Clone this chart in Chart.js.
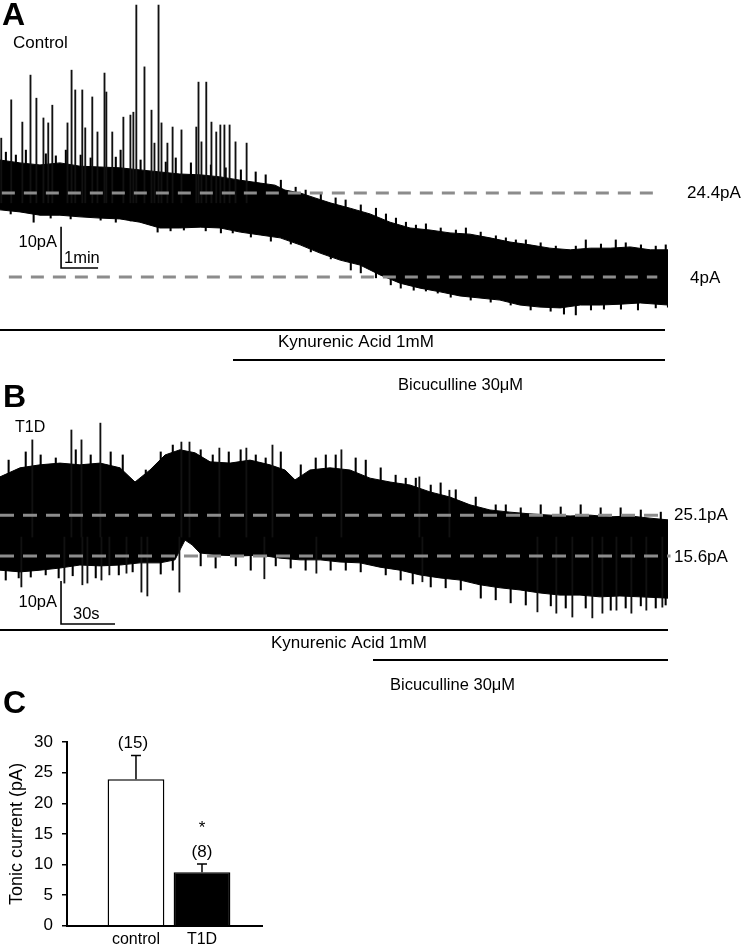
<html>
    <head>
        <script src="https://cdn.jsdelivr.net/npm/chart.js@4.4.1/dist/chart.umd.min.js"></script>
        <style type="text/css">
            body {
                margin: 0;
                padding: 0;
                background: #fff;
            }
            #page {
                position: relative;
                width: 742px;
                height: 945px;
            }
            #page canvas {
                position: absolute;
                left: 0;
            }
        </style>
    </head>
    <body>
        <div id="page">
            <canvas id="traceA" width="742" height="400" style="top:0px"></canvas>
            <canvas id="traceB" width="742" height="325" style="top:375px"></canvas>
            <canvas id="barC" width="300" height="265" style="top:680px"></canvas>
        </div>

        <script>
        // ---- panel A (control), time in min, current in pA ----
        const aUpTime = [0, 0.54, 1.08, 1.62, 2.16, 2.70, 3.24, 3.78, 4.32, 4.86, 5.41, 5.95, 6.49, 7.03, 7.43, 7.70, 8.11, 8.51, 8.92, 9.46, 10.0, 10.54, 11.08, 11.62, 12.16, 12.70, 13.24, 13.78, 14.32, 14.86, 15.41, 15.95, 16.49, 17.03, 17.57, 18.05];
        const aUp = [32.4, 31.7, 31.2, 31.7, 30.9, 30.7, 30.5, 30.0, 29.5, 29.0, 28.8, 28.3, 27.5, 26.8, 26.3, 25.1, 24.4, 23.2, 22.0, 20.7, 19.3, 17.3, 15.9, 15.4, 14.7, 14.4, 13.5, 12.5, 11.8, 11.0, 10.6, 11.0, 11.0, 11.3, 10.6, 10.6];
        const aLowTime = [0, 0.54, 1.08, 1.62, 2.16, 2.70, 3.24, 3.78, 4.32, 4.86, 5.41, 5.95, 6.49, 7.03, 7.57, 8.11, 8.65, 9.19, 9.73, 10.27, 10.81, 11.35, 11.89, 12.43, 12.97, 13.51, 14.05, 14.59, 15.14, 15.68, 16.22, 16.76, 17.30, 18.05];
        const aLow = [20.3, 19.8, 19.0, 19.0, 18.6, 18.3, 18.1, 17.3, 15.9, 15.9, 16.1, 15.9, 14.9, 14.2, 13.5, 11.8, 9.8, 8.1, 6.9, 4.5, 2.5, 1.3, 0.4, -0.6, -1.1, -1.6, -2.8, -3.3, -3.5, -2.8, -2.8, -2.6, -2.3, -2.8];
        // big outward events
        const aSpikeTime = [0.05, 0.32, 0.62, 0.84, 1.00, 1.19, 1.32, 1.43, 1.84, 1.95, 2.05, 2.24, 2.32, 2.51, 2.65, 2.84, 2.89, 3.05, 3.35, 3.54, 3.62, 3.70, 3.92, 4.11, 4.19, 4.30, 4.38, 4.54, 4.68, 4.92, 5.32, 5.38, 5.46, 5.59, 5.73, 5.86, 5.97, 6.08, 6.22, 6.38, 6.68];
        const aSpikeTip = [37.7, 47.0, 41.6, 53.0, 47.4, 42.6, 41.4, 45.7, 41.4, 54.2, 49.4, 49.4, 40.2, 47.7, 39.2, 53.5, 48.9, 39.2, 42.8, 43.3, 44.0, 70.0, 55.0, 44.5, 36.5, 70.0, 41.4, 36.5, 40.4, 39.7, 40.4, 51.3, 36.8, 51.3, 41.6, 39.2, 40.9, 40.9, 40.9, 36.8, 36.5];
        const aSpikeBase = 22;
        // noise peaks along the top and bottom edge of the band
        const aTopNoiseTime = [0.14, 0.41, 0.68, 1.22, 1.49, 1.76, 2.16, 2.43, 3.11, 3.24, 3.78, 4.46, 4.73, 5.14, 5.68, 6.08, 6.49, 6.89, 7.16, 7.57, 7.97, 8.24, 8.65, 9.05, 9.32, 9.73, 10.14, 10.41, 10.68, 10.95, 11.22, 11.49, 11.89, 12.30, 12.57, 12.97, 13.38, 13.65, 13.92, 14.19, 14.59, 15.0, 15.54, 15.81, 16.22, 16.62, 16.89, 17.30, 17.70, 17.97];
        const aTopNoise = [34.3, 33.6, 34.8, 33.9, 33.4, 34.8, 33.6, 32.9, 33.1, 34.8, 32.4, 31.9, 32.9, 31.7, 31.2, 30.5, 30.0, 29.5, 28.8, 27.5, 25.8, 25.1, 24.4, 23.2, 22.7, 21.5, 20.7, 19.3, 18.3, 17.3, 16.6, 16.9, 15.9, 15.4, 15.9, 14.9, 14.0, 13.5, 13.0, 13.0, 12.3, 11.5, 11.5, 13.0, 12.0, 13.0, 12.3, 11.8, 11.5, 11.8];
        const aLowNoiseTime = [0.27, 0.89, 1.35, 1.89, 2.70, 3.11, 3.51, 4.24, 4.59, 4.95, 5.54, 5.95, 6.27, 6.76, 7.30, 7.84, 8.38, 8.92, 9.46, 9.73, 10.14, 10.54, 10.81, 11.16, 11.49, 11.81, 12.16, 12.70, 13.24, 13.78, 14.32, 14.86, 15.22, 15.54, 15.95, 16.30, 16.76, 17.22, 17.70, 18.03];
        const aLowNoise = [19.3, 17.3, 18.3, 18.1, 17.8, 17.3, 17.6, 14.9, 15.2, 15.4, 15.2, 14.7, 14.7, 13.7, 12.7, 12.0, 10.1, 8.4, 5.7, 5.0, 3.8, 2.1, 1.3, 0.8, 0.6, 0.1, -0.9, -1.6, -2.1, -2.8, -4.0, -4.3, -5.0, -5.2, -4.0, -3.8, -3.8, -4.0, -3.5, -3.3];
        const aLevels = [24.4, 4];

        // ---- panel B (T1D), time in s, current in pA ----
        const bUpTime = [0, 11.1, 22.2, 33.3, 44.4, 55.6, 66.7, 75.0, 83.3, 91.7, 100.0, 108.3, 116.7, 127.8, 138.9, 150.0, 158.3, 163.9, 172.2, 183.3, 194.4, 205.6, 216.7, 227.8, 238.9, 250.0, 261.1, 272.2, 283.3, 294.4, 305.6, 316.7, 327.8, 338.9, 350.0, 361.1, 371.1];
        const bUp = [34.0, 36.1, 36.8, 37.2, 36.8, 37.2, 36.1, 32.8, 35.6, 39.1, 40.3, 39.6, 37.5, 37.2, 37.9, 36.8, 35.6, 33.3, 35.6, 36.1, 35.6, 33.7, 32.8, 32.1, 30.5, 29.3, 27.5, 26.3, 25.8, 25.4, 25.1, 24.9, 25.1, 24.7, 24.9, 24.4, 24.0];
        const bLowTime = [0, 11.1, 22.2, 33.3, 44.4, 55.6, 66.7, 77.8, 88.9, 97.2, 102.8, 106.7, 111.1, 122.2, 133.3, 144.4, 155.6, 166.7, 177.8, 188.9, 200.0, 211.1, 222.2, 233.3, 244.4, 255.6, 266.7, 277.8, 288.9, 300.0, 311.1, 322.2, 333.3, 344.4, 355.6, 371.1];
        const bLow = [12.3, 11.9, 12.3, 12.8, 13.5, 13.3, 13.5, 14.0, 14.0, 14.7, 19.3, 18.2, 16.3, 15.8, 15.6, 15.8, 15.1, 14.7, 14.7, 14.2, 14.0, 13.0, 12.3, 11.2, 10.5, 10.0, 8.9, 8.2, 7.7, 7.0, 6.5, 6.5, 6.1, 6.3, 6.1, 5.8];
        const bSpikeTime = [12.2, 18.3, 36.1, 40.0, 45.6, 46.1, 48.9, 56.1, 56.7, 61.1, 70.6, 78.9, 82.2, 100.0, 101.1, 105.6, 122.2, 137.2, 147.2, 151.7, 176.1, 190.0, 233.3, 235.0, 250.0, 298.9, 309.4, 318.3, 329.4, 335.0, 342.8, 351.1, 359.4, 368.3];
        const bSpikeTip = [8.4, 42.6, 9.3, 44.9, 42.6, 8.9, 9.3, 46.5, 10.0, 11.2, 11.6, 7.2, 6.3, 7.2, 42.1, 42.1, 40.7, 40.7, 10.3, 41.4, 11.6, 40.3, 34.0, 9.6, 30.9, 2.6, 2.3, 1.4, 1.2, 2.3, 3.0, 2.3, 3.0, 3.7];
        const bSpikeBase = 20;
        const bTopNoiseTime = [4.4, 13.9, 22.2, 30.6, 41.7, 50.0, 61.1, 67.8, 80.6, 88.9, 95.6, 111.1, 117.8, 126.7, 133.3, 141.7, 147.2, 155.6, 166.7, 175.0, 180.6, 186.1, 197.2, 202.8, 211.1, 219.4, 225.0, 230.6, 238.9, 244.4, 252.8, 263.9, 275.0, 280.6, 288.9, 300.0, 311.1, 322.2, 333.3, 344.4, 355.6, 366.7];
        const bTopNoise = [37.9, 39.8, 39.1, 38.4, 40.3, 39.1, 39.8, 39.1, 35.6, 39.8, 41.4, 40.3, 39.1, 39.8, 40.3, 39.1, 38.4, 39.8, 36.8, 38.4, 39.1, 39.1, 38.4, 37.9, 36.1, 34.4, 33.7, 33.7, 32.1, 32.6, 31.0, 29.3, 27.5, 27.5, 26.8, 27.5, 27.0, 27.5, 26.8, 26.8, 26.3, 25.8];
        const bLowNoiseTime = [2.8, 10.0, 16.7, 25.0, 32.2, 40.0, 52.8, 65.6, 73.3, 88.9, 95.6, 111.1, 119.4, 130.6, 138.9, 152.8, 161.1, 169.4, 183.3, 191.7, 200.0, 213.9, 222.2, 228.9, 238.9, 247.2, 255.6, 266.7, 275.0, 283.3, 291.7, 305.6, 313.9, 325.0, 338.9, 347.2, 355.6, 363.9, 369.4];
        const bLowNoise = [10.0, 10.5, 10.7, 11.2, 10.5, 11.0, 10.5, 11.2, 11.9, 11.4, 12.3, 13.3, 12.8, 13.3, 12.3, 13.3, 12.8, 12.3, 12.3, 12.3, 11.9, 11.2, 10.0, 9.1, 8.4, 8.2, 7.7, 5.8, 5.4, 4.7, 4.2, 4.0, 3.5, 3.5, 3.0, 3.5, 4.0, 3.5, 4.2];
        const bLevels = [25.1, 15.6];

        // ---- panel C ----
        const groups = ['control', 'T1D'];
        const tonicMean = [23.9, 8.75];
        const tonicSem = [3.9, 1.35];
        const nCells = ['(15)', '(8)'];
        const signif = ['', '*'];

        const FONT = "'Liberation Sans', Arial, sans-serif";
        Chart.defaults.font.family = FONT;
        Chart.defaults.color = '#000';

        const NOISE_DEPTH = 8;  // pA, how far each noise peak reaches back into the band

        const pts = (xs, ys) => xs.map((x, i) => ({x: x, y: ys[i]}));

        // texts and drug bars, given in page pixels
        function decor(top, items) {
            return {
                id: 'decor',
                afterDraw(chart) {
                    const c = chart.ctx;
                    c.save();
                    c.fillStyle = '#000';
                    c.strokeStyle = '#000';
                    items.forEach(it => {
                        if (it.line) {
                            c.lineWidth = 2;
                            c.beginPath();
                            c.moveTo(it.line[0], it.line[1] - top);
                            c.lineTo(it.line[2], it.line[1] - top);
                            c.stroke();
                        } else {
                            c.font = it.font || ('17px ' + FONT);
                            c.textAlign = it.align || 'left';
                            c.textBaseline = 'alphabetic';
                            c.fillText(it.text, it.x, it.y - top);
                        }
                    });
                    c.restore();
                }
            };
        }

        function traceChart(id, o) {
            const dash = (lv, i) => ({
                data: [{x: o.dashFrom[i], y: lv}, {x: o.dashTo[i], y: lv}],
                borderColor: '#8c8c8c', borderWidth: 3, borderDash: o.dashPattern,
                pointRadius: 0, fill: false, order: 0, clip: false
            });
            const noise = o.topT.map((t, i) => ({x: t, y: [o.top[i] - NOISE_DEPTH, o.top[i]]}))
                .concat(o.lowNT.map((t, i) => ({x: t, y: [o.lowN[i], o.lowN[i] + NOISE_DEPTH]})));
            return new Chart(document.getElementById(id).getContext('2d'), {
                type: 'line',
                data: {
                    datasets: [
                        dash(o.levels[0], 0),
                        dash(o.levels[1], 1),
                        {
                            data: pts(o.upT, o.up),
                            borderColor: '#000', borderWidth: 1, pointRadius: 0,
                            backgroundColor: '#000', fill: 3, order: 3
                        },
                        {
                            data: pts(o.lowT, o.low),
                            borderColor: '#000', borderWidth: 1, pointRadius: 0,
                            fill: false, order: 3
                        },
                        {
                            type: 'bar',
                            data: o.spT.map((t, i) => ({x: t, y: [o.spBase, o.spTip[i]]})),
                            backgroundColor: '#111', borderWidth: 0, barThickness: 1.2, order: 1
                        },
                        {
                            type: 'bar',
                            data: noise,
                            backgroundColor: '#000', borderWidth: 0, barThickness: 1.4, order: 2
                        },
                        {
                            data: o.bar,
                            borderColor: '#000', borderWidth: 1.6, pointRadius: 0,
                            fill: false, order: 0, clip: false
                        }
                    ]
                },
                options: {
                    responsive: false,
                    animation: false,
                    layout: {padding: {left: 0, right: 74, top: 0, bottom: 0}},
                    plugins: {legend: {display: false}, tooltip: {enabled: false}},
                    scales: {
                        x: {type: 'linear', display: false, offset: false, min: 0, max: o.tMax},
                        y: {type: 'linear', display: false, min: o.yMin, max: o.yMax}
                    }
                },
                plugins: [decor(o.canvasTop, o.decor)]
            });
        }

        traceChart('traceA', {
            canvasTop: 0, tMax: 18.05, yMin: -25.85, yMax: 71.23,
            upT: aUpTime, up: aUp, lowT: aLowTime, low: aLow,
            spT: aSpikeTime, spTip: aSpikeTip, spBase: aSpikeBase,
            topT: aTopNoiseTime, top: aTopNoise, lowNT: aLowNoiseTime, lowN: aLowNoise,
            levels: aLevels, dashFrom: [0.05, 0.24], dashTo: [17.84, 17.76], dashPattern: [13, 9],
            bar: [{x: 1.65, y: 16.2}, {x: 1.65, y: 6.2}, {x: 2.65, y: 6.2}],
            decor: [
                {text: 'A', x: 2, y: 25, font: 'bold 32px ' + FONT},
                {text: 'Control', x: 13, y: 48},
                {text: aLevels[0] + 'pA', x: 687, y: 198},
                {text: aLevels[1] + 'pA', x: 690, y: 283},
                {text: '10pA', x: 57, y: 247, align: 'right', font: '16.5px ' + FONT},
                {text: '1min', x: 64, y: 263, font: '16.5px ' + FONT},
                {line: [0, 330, 665]},
                {text: 'Kynurenic Acid 1mM', x: 278, y: 347},
                {line: [233, 360, 665]},
                {text: 'Bicuculline 30\u03bcM', x: 398, y: 390, font: '16.5px ' + FONT}
            ]
        });

        traceChart('traceB', {
            canvasTop: 375, tMax: 371.1, yMin: -17.89, yMax: 57.69,
            upT: bUpTime, up: bUp, lowT: bLowTime, low: bLow,
            spT: bSpikeTime, spTip: bSpikeTip, spBase: bSpikeBase,
            topT: bTopNoiseTime, top: bTopNoise, lowNT: bLowNoiseTime, lowN: bLowNoise,
            levels: bLevels, dashFrom: [0, 0], dashTo: [368.3, 372.5], dashPattern: [14, 9],
            bar: [{x: 33.9, y: 9.8}, {x: 33.9, y: -0.2}, {x: 63.9, y: -0.2}],
            decor: [
                {text: 'B', x: 3, y: 407, font: 'bold 32px ' + FONT},
                {text: 'T1D', x: 15, y: 432, font: '16px ' + FONT},
                {text: bLevels[0] + 'pA', x: 674, y: 520},
                {text: bLevels[1] + 'pA', x: 674, y: 562},
                {text: '10pA', x: 57, y: 607, align: 'right', font: '16.5px ' + FONT},
                {text: '30s', x: 73, y: 619, font: '16.5px ' + FONT},
                {line: [0, 630, 668]},
                {text: 'Kynurenic Acid 1mM', x: 271, y: 648},
                {line: [373, 660, 668]},
                {text: 'Bicuculline 30\u03bcM', x: 390, y: 690, font: '16.5px ' + FONT}
            ]
        });

        // error bars + n + asterisk over the bars
        const errorBars = {
            id: 'errorBars',
            afterDatasetsDraw(chart) {
                const c = chart.ctx;
                const ys = chart.scales.y;
                const meta = chart.getDatasetMeta(0);
                c.save();
                c.strokeStyle = '#000';
                c.fillStyle = '#000';
                c.lineWidth = 1.5;
                meta.data.forEach((bar, i) => {
                    const y0 = ys.getPixelForValue(tonicMean[i]);
                    const y1 = ys.getPixelForValue(tonicMean[i] + tonicSem[i]);
                    c.beginPath();
                    c.moveTo(bar.x, y0);
                    c.lineTo(bar.x, y1);
                    c.moveTo(bar.x - 5, y1);
                    c.lineTo(bar.x + 5, y1);
                    c.stroke();
                    c.font = '17px ' + FONT;
                    c.textAlign = 'center';
                    c.textBaseline = 'middle';
                    c.fillText(nCells[i], bar.x - (i === 0 ? 3 : 0), y1 - 12);
                    if (signif[i]) {
                        c.textBaseline = 'alphabetic';
                        c.fillText(signif[i], bar.x, y1 - 31);
                    }
                });
                c.restore();
            }
        };

        new Chart(document.getElementById('barC').getContext('2d'), {
            type: 'bar',
            data: {
                datasets: [{
                    data: groups.map((g, i) => ({x: i, y: tonicMean[i]})),
                    backgroundColor: ['#fff', '#000'],
                    borderColor: '#000',
                    borderWidth: 1.5,
                    borderSkipped: 'bottom',
                    barPercentage: 0.86,
                    categoryPercentage: 1
                }]
            },
            options: {
                responsive: false,
                animation: false,
                layout: {padding: {left: 0, right: 38, top: 62, bottom: 0}},
                plugins: {legend: {display: false}, tooltip: {enabled: false}},
                scales: {
                    x: {
                        type: 'linear', min: -1.045, max: 1.909, offset: false,
                        grid: {display: false, drawTicks: false},
                        border: {display: true, color: '#000', width: 2},
                        afterBuildTicks: s => { s.ticks = groups.map((g, i) => ({value: i})); },
                        ticks: {callback: v => groups[v], font: {size: 16}, padding: 4, autoSkip: false, maxRotation: 0},
                        afterFit: s => { s.height = 19; }
                    },
                    y: {
                        min: 0, max: 30,
                        ticks: {stepSize: 5, font: {size: 17}, padding: 9},
                        grid: {drawOnChartArea: false, color: '#000', tickLength: 5, lineWidth: 1.5},
                        border: {color: '#000', width: 2},
                        title: {display: true, text: 'Tonic current (pA)', font: {size: 18}, padding: {top: 6, bottom: 0}},
                        afterFit: s => { s.width = 67; }
                    }
                }
            },
            plugins: [errorBars, decor(680, [{text: 'C', x: 3, y: 713, font: 'bold 32px ' + FONT}])]
        });
        </script>
    </body>
</html>
